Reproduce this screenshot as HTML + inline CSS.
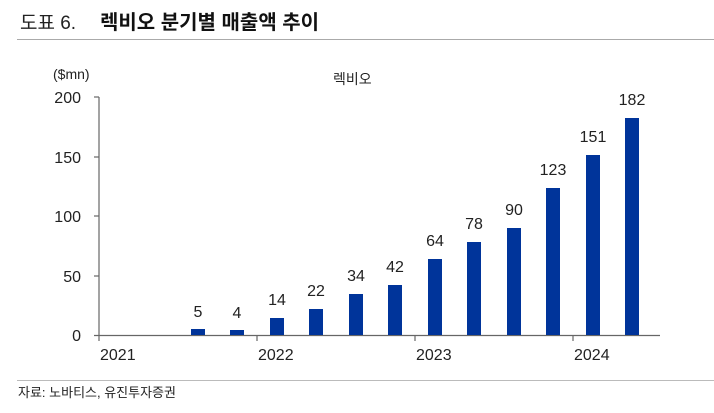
<!DOCTYPE html><html><head><meta charset="utf-8"><style>
body{margin:0;width:714px;height:408px;background:#fff;overflow:hidden;font-family:"Liberation Sans","Noto Sans CJK KR",sans-serif;}
</style></head><body>
<svg width="714" height="408" xmlns="http://www.w3.org/2000/svg" font-family="Liberation Sans, Noto Sans CJK KR, sans-serif">
<text x="20" y="29" font-size="19" fill="#222">도표 6.</text>
<text x="100" y="29" font-size="20" font-weight="bold" fill="#111">렉비오 분기별 매출액 추이</text>
<line x1="17" y1="39.5" x2="714" y2="39.5" stroke="#aaa" stroke-width="1"/>
<text x="53" y="79" font-size="14" fill="#222">($mn)</text>
<text x="333" y="84" font-size="14" fill="#222">렉비오</text>
<g font-size="16" fill="#222" text-anchor="end">
<text x="81" y="103">200</text><text x="81" y="163">150</text><text x="81" y="222">100</text><text x="81" y="282">50</text><text x="81" y="341">0</text>
</g>
<g stroke="#666" stroke-width="1.2">
<line x1="99" y1="97" x2="99" y2="336"/>
<line x1="94" y1="97" x2="99" y2="97"/><line x1="94" y1="157" x2="99" y2="157"/><line x1="94" y1="216" x2="99" y2="216"/><line x1="94" y1="276" x2="99" y2="276"/><line x1="94" y1="335.5" x2="660" y2="335.5"/>
<line x1="99" y1="335" x2="99" y2="341"/><line x1="257" y1="335" x2="257" y2="341"/><line x1="415" y1="335" x2="415" y2="341"/><line x1="573" y1="335" x2="573" y2="341"/>
</g>
<g font-size="16" fill="#222">
<text x="100" y="360">2021</text><text x="258" y="360">2022</text><text x="416" y="360">2023</text><text x="574" y="360">2024</text>
</g>
<g fill="#00349a">
<rect x="191" y="329" width="14" height="6"/>
<rect x="230" y="330" width="14" height="5"/>
<rect x="270" y="318" width="14" height="17"/>
<rect x="309" y="309" width="14" height="26"/>
<rect x="349" y="294" width="14" height="41"/>
<rect x="388" y="285" width="14" height="50"/>
<rect x="428" y="259" width="14" height="76"/>
<rect x="467" y="242" width="14" height="93"/>
<rect x="507" y="228" width="14" height="107"/>
<rect x="546" y="188" width="14" height="147"/>
<rect x="586" y="155" width="14" height="180"/>
<rect x="625" y="118" width="14" height="217"/>
</g>
<g font-size="16" fill="#222" text-anchor="middle">
<text x="198" y="317">5</text><text x="237" y="318">4</text><text x="277" y="305">14</text><text x="316" y="296">22</text>
<text x="356" y="281">34</text><text x="395" y="272">42</text><text x="435" y="246">64</text><text x="474" y="229">78</text>
<text x="514" y="215">90</text><text x="553" y="175">123</text><text x="593" y="142">151</text><text x="632" y="105">182</text>
</g>
<line x1="17" y1="380.5" x2="714" y2="380.5" stroke="#bbb" stroke-width="1"/>
<text x="18" y="397" font-size="13" fill="#222">자료: 노바티스, 유진투자증권</text>
</svg>
</body></html>
